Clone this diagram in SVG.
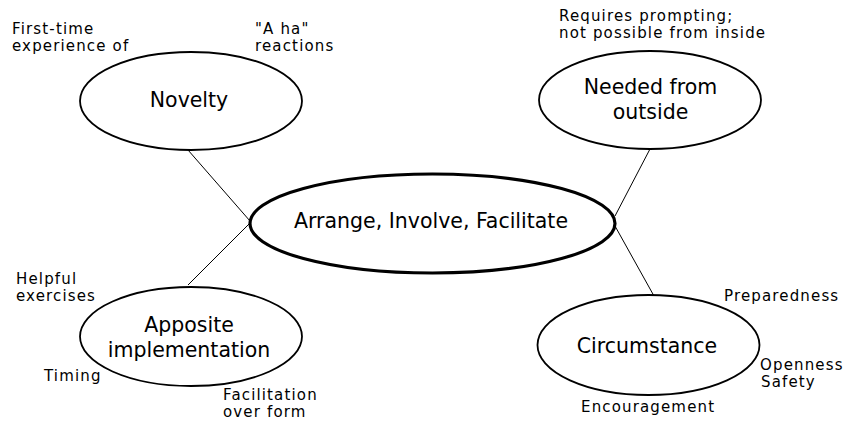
<svg xmlns="http://www.w3.org/2000/svg" width="845" height="422" viewBox="0 0 845 422">
<style>
.n{fill:#fff;stroke:#000;stroke-width:1.8}
.c{fill:#fff;stroke:#000;stroke-width:3.2}
.t{font-family:"DejaVu Sans",sans-serif;font-size:20.5px;fill:#000;text-anchor:middle}
.s{font-family:"DejaVu Sans",sans-serif;font-size:15px;fill:#000;letter-spacing:1.15px}
.l{stroke:#000;stroke-width:1;fill:none}
</style>
<rect width="845" height="422" fill="#fff"/>
<g id="connectors">
<line class="l" x1="188" y1="150" x2="250" y2="221"/>
<line class="l" x1="250" y1="223" x2="188" y2="285"/>
<line class="l" x1="650" y1="149" x2="615" y2="216"/>
<line class="l" x1="615" y1="226" x2="654" y2="296"/>
</g>
<g id="center">
<ellipse class="c" cx="432.5" cy="223.5" rx="182.5" ry="49.5"/>
<text class="t" x="431" y="228">Arrange, Involve, Facilitate</text>
</g>
<g id="novelty">
<ellipse class="n" cx="191" cy="101" rx="111" ry="49"/>
<text class="t" x="189" y="107">Novelty</text>
<text class="s" x="12" y="33.7">First-time</text>
<text class="s" x="12" y="51.3">experience of</text>
<text class="s" x="255" y="33.7">"A ha"</text>
<text class="s" x="255" y="51.3">reactions</text>
</g>
<g id="needed">
<ellipse class="n" cx="650" cy="100" rx="111" ry="49"/>
<text class="t" x="650.5" y="94">Needed from</text>
<text class="t" x="650.5" y="119">outside</text>
<text class="s" x="559" y="20.7">Requires prompting;</text>
<text class="s" x="559" y="38.3">not possible from inside</text>
</g>
<g id="apposite">
<ellipse class="n" cx="191" cy="336.5" rx="111" ry="49.5"/>
<text class="t" x="189" y="331.5">Apposite</text>
<text class="t" x="189" y="356.5">implementation</text>
<text class="s" x="16" y="283.7">Helpful</text>
<text class="s" x="16" y="301.3">exercises</text>
<text class="s" x="44" y="381">Timing</text>
<text class="s" x="223" y="399.7">Facilitation</text>
<text class="s" x="223" y="417.3">over form</text>
</g>
<g id="circumstance">
<ellipse class="n" cx="648.5" cy="345" rx="111" ry="50"/>
<text class="t" x="647" y="353">Circumstance</text>
<text class="s" x="724" y="300.5">Preparedness</text>
<text class="s" x="760" y="369.7">Openness</text>
<text class="s" x="761" y="387.3">Safety</text>
<text class="s" x="581" y="411.5">Encouragement</text>
</g>
</svg>
